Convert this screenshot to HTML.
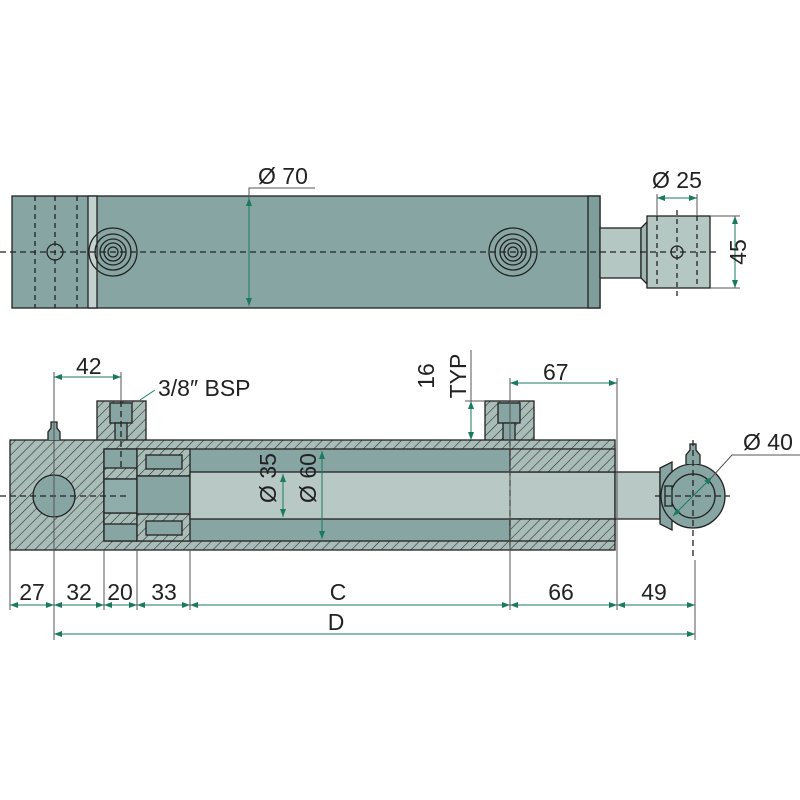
<!DOCTYPE html>
<html><head><meta charset="utf-8"><style>
html,body{margin:0;padding:0;background:#fff;}
svg{display:block;}
text{font-family:"Liberation Sans",sans-serif;fill:#222;}
</style></head><body>
<svg width="800" height="800" viewBox="0 0 800 800" xmlns="http://www.w3.org/2000/svg">
<defs>
<pattern id="h" width="7" height="7" patternUnits="userSpaceOnUse" patternTransform="rotate(45)">
<rect width="7" height="7" fill="#a8bcb8"/><line x1="0" y1="0" x2="0" y2="7" stroke="#333" stroke-width="1.2"/>
</pattern>
<marker id="a" markerWidth="8" markerHeight="6" refX="8" refY="3" orient="auto-start-reverse" markerUnits="userSpaceOnUse"><path d="M0,0 L8,3 L0,6 z" fill="#1a7a60"/></marker>
</defs>
<g stroke="#222" stroke-width="1.3">
<!-- top view -->
<rect x="12" y="196" width="588" height="112" fill="#87a5a2"/>
<rect x="88" y="196" width="9" height="112" fill="#c4d2cf"/>
<rect x="588" y="196" width="12" height="112" fill="#7f9d9a"/>
<line x1="35" y1="196" x2="35" y2="308" stroke-dasharray="5,4"/>
<line x1="55" y1="196" x2="55" y2="308" stroke-dasharray="5,4"/>
<line x1="77" y1="196" x2="77" y2="308" stroke-dasharray="5,4"/>
<circle cx="55" cy="252" r="8" fill="none"/>
<g fill="none"><circle cx="113" cy="252" r="24"/><circle cx="113" cy="252" r="18"/><circle cx="113" cy="252" r="13"/><circle cx="113" cy="252" r="9"/><circle cx="113" cy="252" r="5"/>
<circle cx="513" cy="252" r="24"/><circle cx="513" cy="252" r="18"/><circle cx="513" cy="252" r="13"/><circle cx="513" cy="252" r="9"/><circle cx="513" cy="252" r="5"/></g>
<rect x="600" y="228" width="41" height="50" fill="#b5c7c3"/>
<path d="M641,228 L647,222 L647,284 L641,278 z" fill="#9fb5b1"/>
<rect x="647" y="216" width="63" height="72" fill="#b5c7c3"/>
<line x1="657" y1="216" x2="657" y2="288" stroke-dasharray="5,4"/>
<line x1="697" y1="216" x2="697" y2="288" stroke-dasharray="5,4"/>
<line x1="677" y1="210" x2="677" y2="296" stroke-dasharray="5,4"/>
<circle cx="677" cy="252" r="6" fill="none"/>
<line x1="0" y1="252" x2="720" y2="252" stroke-dasharray="6,4"/>
<!-- section view -->
<rect x="97" y="401" width="49" height="40" fill="url(#h)"/>
<rect x="110" y="403" width="22" height="20" fill="#87a5a2"/>
<rect x="115" y="423" width="12" height="20" fill="#87a5a2"/>
<rect x="485" y="401" width="49" height="40" fill="url(#h)"/>
<rect x="498" y="403" width="22" height="20" fill="#87a5a2"/>
<rect x="503" y="423" width="12" height="20" fill="#87a5a2"/>
<rect x="10" y="440" width="605" height="110" fill="url(#h)"/>
<rect x="104" y="449" width="406" height="92" fill="#87a5a2"/>
<rect x="104" y="449" width="33" height="92" fill="#87a5a2"/>
<rect x="104" y="468" width="33" height="11" fill="url(#h)"/>
<rect x="104" y="513" width="33" height="11" fill="url(#h)"/>
<rect x="104" y="479" width="33" height="34" fill="#8fadaa"/>
<path d="M137,449 H190 V476 H137 z" fill="url(#h)"/>
<path d="M137,514 H190 V541 H137 z" fill="url(#h)"/>
<rect x="146" y="455" width="36" height="14" fill="#87a5a2"/>
<rect x="146" y="521" width="36" height="14" fill="#87a5a2"/>
<rect x="137" y="476" width="53" height="38" fill="#87a5a2"/>
<rect x="190" y="472" width="425" height="47" fill="#b8c9c5"/>
<rect x="510" y="449" width="105" height="23" fill="url(#h)"/>
<rect x="510" y="519" width="105" height="22" fill="url(#h)"/>
<rect x="615" y="472" width="45" height="47" fill="#b8c9c5"/>
<path d="M660,468 L672,462 L672,530 L660,524 z" fill="#87a5a2"/>
<circle cx="693" cy="496" r="32" fill="#87a5a2"/>
<circle cx="693" cy="496" r="22" fill="#87a5a2"/>
<rect x="665" y="486" width="7" height="20" fill="#87a5a2"/>
<path d="M686,464 V455 L690,450 V444 H696 V450 L700,455 V464" fill="#87a5a2"/>
<path d="M48,440 V432 L51,428 V422 H57 V428 L60,432 V440" fill="#87a5a2"/>
<circle cx="54" cy="496" r="21" fill="#87a5a2"/>
<line x1="0" y1="496" x2="130" y2="496" stroke-dasharray="6,4"/>
<line x1="655" y1="496" x2="730" y2="496" stroke-dasharray="6,4"/>
<line x1="693" y1="440" x2="693" y2="560" stroke-dasharray="6,4"/>
<line x1="510" y1="440" x2="510" y2="550" stroke-dasharray="6,4"/>
<line x1="121" y1="401" x2="121" y2="470" stroke-dasharray="6,4"/>
</g>
<!-- dimensions -->
<g stroke="#1a7a60" stroke-width="1" fill="none">
<line x1="249" y1="198" x2="249" y2="306" marker-start="url(#a)" marker-end="url(#a)"/>
<polyline points="249,198 249,188 315,188" stroke="#555"/>
<line x1="657" y1="198" x2="697" y2="198" marker-start="url(#a)" marker-end="url(#a)"/>
<line x1="657" y1="194" x2="657" y2="216" stroke="#555"/><line x1="697" y1="194" x2="697" y2="216" stroke="#555"/>
<line x1="735" y1="216" x2="735" y2="288" marker-start="url(#a)" marker-end="url(#a)"/>
<line x1="710" y1="216" x2="740" y2="216" stroke="#555"/><line x1="710" y1="288" x2="740" y2="288" stroke="#555"/>
<line x1="54" y1="377" x2="121" y2="377" marker-start="url(#a)" marker-end="url(#a)"/>
<line x1="54" y1="372" x2="54" y2="640" stroke="#555"/><line x1="121" y1="372" x2="121" y2="401" stroke="#555"/>
<polyline points="140,400 155,390" />
<line x1="510" y1="383" x2="617" y2="383" marker-start="url(#a)" marker-end="url(#a)"/>
<line x1="510" y1="378" x2="510" y2="610" stroke="#555"/><line x1="617" y1="378" x2="617" y2="610" stroke="#555"/>
<line x1="471" y1="401" x2="471" y2="440" marker-start="url(#a)" marker-end="url(#a)"/>
<line x1="465" y1="401" x2="485" y2="401" stroke="#555"/><line x1="471" y1="350" x2="471" y2="401" stroke="#555"/>
<line x1="283" y1="474" x2="283" y2="517" marker-start="url(#a)" marker-end="url(#a)"/>
<line x1="322" y1="451" x2="322" y2="539" marker-start="url(#a)" marker-end="url(#a)"/>
<line x1="673" y1="516" x2="712" y2="477" marker-start="url(#a)" marker-end="url(#a)"/>
<polyline points="712,477 732,455 800,455" stroke="#555"/>
<g marker-start="url(#a)" marker-end="url(#a)">
<line x1="10" y1="605" x2="54" y2="605"/><line x1="54" y1="605" x2="104" y2="605"/><line x1="104" y1="605" x2="137" y2="605"/><line x1="137" y1="605" x2="190" y2="605"/><line x1="190" y1="605" x2="510" y2="605"/><line x1="510" y1="605" x2="617" y2="605"/><line x1="617" y1="605" x2="695" y2="605"/>
<line x1="54" y1="634" x2="695" y2="634"/></g>
<g stroke="#555"><line x1="10" y1="550" x2="10" y2="610"/><line x1="104" y1="550" x2="104" y2="610"/><line x1="137" y1="550" x2="137" y2="610"/><line x1="190" y1="550" x2="190" y2="610"/><line x1="695" y1="560" x2="695" y2="640"/></g>
</g>
<g font-size="23">
<text x="258" y="184">Ø 70</text>
<text x="652" y="188">Ø 25</text>
<text x="746" y="252" transform="rotate(-90 746 252)" text-anchor="middle">45</text>
<text x="76" y="374">42</text>
<text x="158" y="396">3/8″ BSP</text>
<text x="543" y="380">67</text>
<text x="434" y="376" transform="rotate(-90 434 376)" text-anchor="middle">16</text>
<text x="466" y="376" transform="rotate(-90 466 376)" text-anchor="middle">TYP</text>
<text x="276" y="478" transform="rotate(-90 276 478)" text-anchor="middle">Ø 35</text>
<text x="316" y="478" transform="rotate(-90 316 478)" text-anchor="middle">Ø 60</text>
<text x="743" y="450">Ø 40</text>
<text x="32" y="600" text-anchor="middle">27</text>
<text x="79" y="600" text-anchor="middle">32</text>
<text x="120" y="600" text-anchor="middle">20</text>
<text x="164" y="600" text-anchor="middle">33</text>
<text x="338" y="600" text-anchor="middle">C</text>
<text x="561" y="600" text-anchor="middle">66</text>
<text x="654" y="600" text-anchor="middle">49</text>
<text x="336" y="630" text-anchor="middle">D</text>
</g>
</svg>
</body></html>
